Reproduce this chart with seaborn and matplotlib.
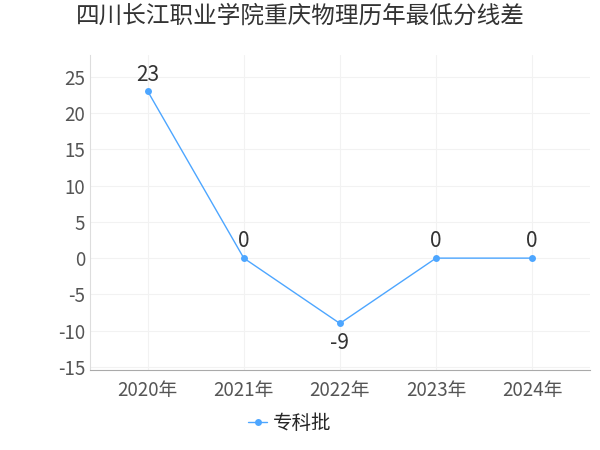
import matplotlib
matplotlib.use("Agg")
import matplotlib.pyplot as plt
import seaborn as sns
import pandas as pd

years = ["2020年", "2021年", "2022年", "2023年", "2024年"]
values = [23, 0, -9, 0, 0]
series = "专科批"
yticks = list(range(-15, 30, 5))

sns.set_style("white")
plt.rcParams['font.family'] = ['Noto Sans CJK SC', 'DejaVu Sans']
plt.rcParams['axes.unicode_minus'] = False

df = pd.DataFrame({"year": years, "value": values, "s": series})
fig = plt.figure(figsize=(6, 4.5), dpi=100)
ax = fig.add_axes([0.15, 0.178, 0.833, 0.70])
color = "#4da6ff"
sns.lineplot(data=df, x="year", y="value", hue="s", palette=[color], marker="o",
             markersize=5, markeredgewidth=0, linewidth=1, ax=ax, sort=False)
for i, v in enumerate(values):
    off = -14 if v < 0 else 12
    ax.annotate(str(v), (i, v), textcoords="offset points", xytext=(0, off),
                ha="center", va="center", fontsize=15, color="#333333")
ax.set_xlim(-0.6, 4.6)
ax.set_ylim(-15.4, 28)
ax.set_yticks(yticks)
ax.set_yticklabels([str(t) for t in yticks])
ax.grid(True, color="#f2f2f2", linewidth=0.8)
ax.set_xlabel("")
ax.set_ylabel("")
for s in ["top", "right"]:
    ax.spines[s].set_visible(False)
ax.spines["left"].set_color("#dddddd")
ax.spines["bottom"].set_color("#aaaaaa")
ax.tick_params(axis="both", labelsize=13.5, colors="#555555", length=0)
ax.tick_params(axis="x", length=4, color="#aaaaaa")
ax.legend(loc="upper center", bbox_to_anchor=(0.4, -0.08), frameon=False,
          fontsize=14, handlelength=1.0, handletextpad=0.3)
fig.suptitle("四川长江职业学院重庆物理历年最低分线差", x=0.5, y=0.99, fontsize=17, color="#333333")
fig.savefig("out.png", dpi=100)
